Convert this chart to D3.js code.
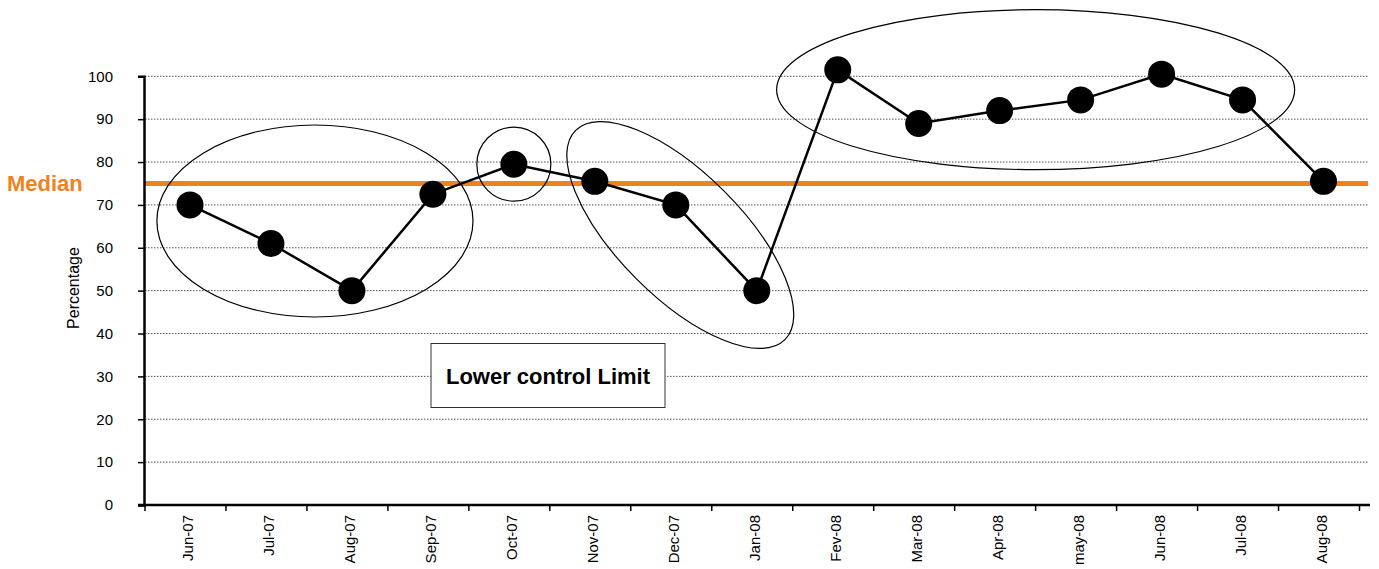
<!DOCTYPE html>
<html>
<head>
<meta charset="utf-8">
<script src="https://cdn.jsdelivr.net/npm/d3@7"></script>
<style>
  body { margin: 0; background: #fff; }
  svg { display: block; font-family: "Liberation Sans", Arial, Helvetica, sans-serif; }
</style>
</head>
<body>
<svg id="chart"></svg>
<script>
// data
const months = ["Jun-07", "Jul-07", "Aug-07", "Sep-07", "Oct-07", "Nov-07", "Dec-07", "Jan-08",
  "Fev-08", "Mar-08", "Apr-08", "may-08", "Jun-08", "Jul-08", "Aug-08"];
const percentage = [70, 61, 50, 72.5, 79.5, 75.5, 70, 50, 101.5, 89, 92, 94.5, 100.5, 94.5, 75.5];
const median = 75;
const yTicks = [0, 10, 20, 30, 40, 50, 60, 70, 80, 90, 100];
// groups circled on the chart (first and last month of each run)
const runs = [["Jun-07", "Sep-07"], ["Oct-07", "Oct-07"], ["Nov-07", "Jan-08"], ["Fev-08", "Jul-08"]];

const width = 1379;
const height = 569;
const svg = d3.select("#chart").attr("width", width).attr("height", height);

const x = d3.scaleBand().domain(months).range([149.5, 1364]);
const y = d3.scaleLinear().domain([0, 100]).range([505, 76.3]);
const cx = m => x(m) + x.bandwidth() / 2;
const tickOff = -4.5; // category ticks sit a bit left of the band edges

// dotted grid
svg.append("g")
  .selectAll("line").data(yTicks.filter(d => d > 0)).enter().append("line")
  .attr("x1", 145).attr("x2", 1369)
  .attr("y1", d => y(d)).attr("y2", d => y(d))
  .attr("stroke", "#555").attr("stroke-width", 1)
  .attr("stroke-dasharray", "1.5,1.5");

// median line
svg.append("line")
  .attr("x1", 145).attr("x2", 1368)
  .attr("y1", y(median)).attr("y2", y(median))
  .attr("stroke", "#F0821E").attr("stroke-width", 5);
svg.append("text")
  .attr("x", 7).attr("y", y(median) + 8)
  .attr("fill", "#F0821E").attr("font-weight", "bold").attr("font-size", 22)
  .text("Median");

// y axis
const yAxis = svg.append("g")
  .attr("transform", "translate(144,0)")
  .call(d3.axisLeft(y).tickValues(yTicks).tickSize(6).tickPadding(25));
yAxis.select(".domain").attr("stroke", "#000").attr("stroke-width", 2.5);
yAxis.selectAll(".tick line").attr("stroke", "#000").attr("stroke-width", 1.5);
yAxis.selectAll("text").attr("font-size", 15).attr("fill", "#000");

svg.append("text")
  .attr("transform", "translate(78.5,288) rotate(-90)")
  .attr("text-anchor", "middle").attr("font-size", 16)
  .text("Percentage");

// x axis, ticks between the months
const xAxis = svg.append("g").attr("transform", "translate(0," + y(0) + ")");
xAxis.append("line")
  .attr("x1", 138).attr("x2", 1370)
  .attr("stroke", "#000").attr("stroke-width", 2.5);
xAxis.selectAll(".tk").data(months).enter().append("line")
  .attr("x1", d => x(d) + tickOff).attr("x2", d => x(d) + tickOff)
  .attr("y1", 0).attr("y2", 6)
  .attr("stroke", "#000").attr("stroke-width", 1.5);
xAxis.append("line")
  .attr("x1", x.range()[1] + tickOff).attr("x2", x.range()[1] + tickOff)
  .attr("y1", 0).attr("y2", 6)
  .attr("stroke", "#000").attr("stroke-width", 1.5);
xAxis.selectAll("text").data(months).enter().append("text")
  .attr("transform", d => "translate(" + (cx(d) + 3) + ",10) rotate(-90)")
  .attr("text-anchor", "end").attr("font-size", 15)
  .text(d => d);

// circled runs
function runBox(r) {
  const i0 = months.indexOf(r[0]), i1 = months.indexOf(r[1]);
  const vals = percentage.slice(i0, i1 + 1);
  return { x0: cx(r[0]), x1: cx(r[1]), yMin: y(d3.max(vals)), yMax: y(d3.min(vals)) };
}
const ell = svg.append("g").attr("fill", "none").attr("stroke", "#000").attr("stroke-width", 1.2);
{
  const b = runBox(runs[0]);
  ell.append("ellipse")
    .attr("cx", (b.x0 + b.x1) / 2 + 3.5).attr("cy", (b.yMin + b.yMax) / 2 - 21.4)
    .attr("rx", (b.x1 - b.x0) / 2 + 36.6).attr("ry", 96);
}
{
  const b = runBox(runs[1]);
  ell.append("circle").attr("cx", b.x0).attr("cy", b.yMin).attr("r", 37);
}
{
  const b = runBox(runs[2]);
  const mx = (b.x0 + b.x1) / 2 + 4.5, my = (b.yMin + b.yMax) / 2 - 1;
  ell.append("ellipse")
    .attr("transform", "translate(" + mx + "," + my + ") rotate(45)")
    .attr("rx", 148).attr("ry", 62);
}
{
  const b = runBox(runs[3]);
  ell.append("ellipse")
    .attr("cx", (b.x0 + b.x1) / 2 - 4.5).attr("cy", (b.yMin + b.yMax) / 2 - 7)
    .attr("rx", 259).attr("ry", 80);
}

// series
const line = d3.line().x((d, i) => cx(months[i])).y(d => y(d));
svg.append("path").datum(percentage)
  .attr("d", line).attr("fill", "none")
  .attr("stroke", "#000").attr("stroke-width", 2.5);
svg.selectAll(".pt").data(percentage).enter().append("circle")
  .attr("cx", (d, i) => cx(months[i])).attr("cy", d => y(d))
  .attr("r", 13.5).attr("fill", "#000");

// annotation box
const box = svg.append("g");
box.append("rect")
  .attr("x", 431).attr("y", 343.5).attr("width", 234).attr("height", 64)
  .attr("fill", "#fff").attr("stroke", "#333").attr("stroke-width", 1);
box.append("text")
  .attr("x", 548).attr("y", 384)
  .attr("text-anchor", "middle").attr("font-weight", "bold").attr("font-size", 22)
  .text("Lower control Limit");
</script>
</body>
</html>
